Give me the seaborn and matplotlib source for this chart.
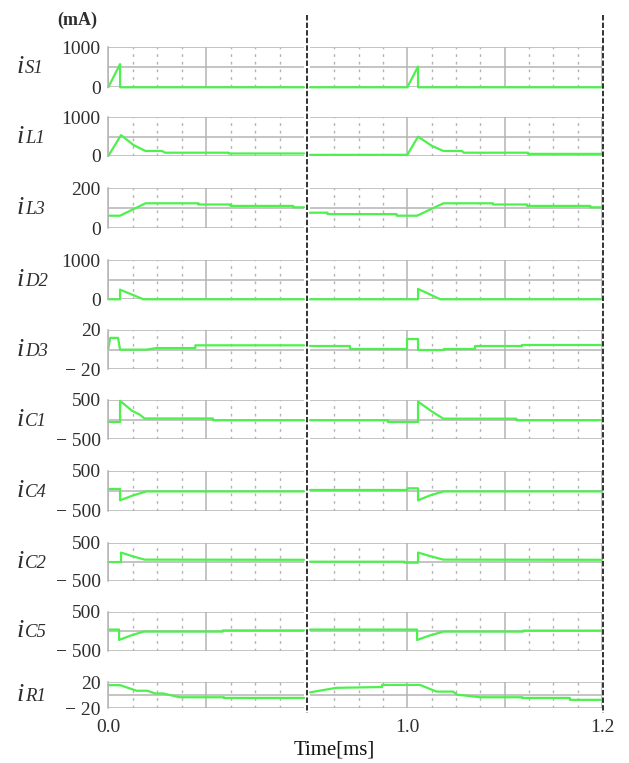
import matplotlib
matplotlib.use('Agg')
import matplotlib.pyplot as plt
from matplotlib.lines import Line2D
import seaborn as sns

# Waveforms: window A = 0-0.2 ms, window B = 0.9-1.2 ms (values in mA)
IS1_A_T = [0, 0.012, 0.012, 0.2]
IS1_A = [0, 580, 0, 0]
IS1_B_T = [0.9, 1.0, 1.011, 1.011, 1.2]
IS1_B = [0, 0, 520, 0, 0]

IL1_A_T = [0, 0.013, 0.026, 0.038, 0.055, 0.058, 0.123, 0.123, 0.2]
IL1_A = [0, 540, 280, 130, 130, 85, 85, 65, 65]
IL1_B_T = [0.9, 1.0, 1.011, 1.025, 1.037, 1.056, 1.058, 1.124, 1.124, 1.2]
IL1_B = [30, 30, 500, 265, 130, 130, 85, 85, 55, 55]

IL3_A_T = [0, 0.012, 0.038, 0.092, 0.092, 0.125, 0.125, 0.189, 0.189, 0.2]
IL3_A = [63, 63, 125, 125, 119, 119, 112, 112, 105, 105]
IL3_B_T = [0.9, 0.918, 0.918, 0.989, 0.989, 1.010, 1.037, 1.088, 1.088,
           1.123, 1.123, 1.188, 1.188, 1.2]
IL3_B = [78, 78, 71, 71, 63, 63, 125, 125, 119, 119, 112, 112, 105, 105]

ID2_A_T = [0, 0.012, 0.012, 0.036, 0.2]
ID2_A = [0, 0, 245, 0, 0]
ID2_B_T = [0.9, 1.011, 1.011, 1.034, 1.2]
ID2_B = [0, 0, 265, 0, 0]

ID3_A_T = [0, 0.002, 0.010, 0.012, 0.039, 0.049, 0.089, 0.089, 0.2]
ID3_A = [1, 12, 12, 0, 0, 1.6, 1.6, 4.4, 4.4]
ID3_B_T = [0.9, 0.941, 0.941, 1.0, 1.0, 1.011, 1.011, 1.038, 1.038,
           1.07, 1.07, 1.118, 1.118, 1.2]
ID3_B = [3.7, 3.7, 1, 1, 11, 11, 0, 0, 1, 1, 3.4, 3.4, 5, 5]

IC1_A_T = [0, 0.012, 0.012, 0.024, 0.032, 0.037, 0.107, 0.107, 0.2]
IC1_A = [-60, -60, 480, 230, 130, 30, 30, -15, -15]
IC1_B_T = [0.9, 0.98, 0.98, 1.011, 1.011, 1.025, 1.037, 1.112, 1.112, 1.2]
IC1_B = [-15, -15, -60, -60, 460, 210, 25, 25, -15, -15]

IC4_A_T = [0, 0.012, 0.012, 0.025, 0.039, 0.2]
IC4_A = [44, 44, -240, -120, -18, -18]
IC4_B_T = [0.9, 1.0, 1.0, 1.011, 1.011, 1.023, 1.037, 1.2]
IC4_B = [18, 18, 60, 60, -240, -120, -18, -18]

IC2_A_T = [0, 0.013, 0.013, 0.024, 0.037, 0.2]
IC2_A = [-10, -10, 240, 150, 55, 50]
IC2_B_T = [0.9, 0.997, 0.997, 1.011, 1.011, 1.023, 1.037, 1.2]
IC2_B = [0, 0, -25, -25, 240, 150, 55, 50]

IC5_A_T = [0, 0.011, 0.011, 0.023, 0.036, 0.117, 0.117, 0.2]
IC5_A = [42, 42, -225, -110, -10, -10, 20, 20]
IC5_B_T = [0.9, 1.010, 1.010, 1.023, 1.037, 1.119, 1.119, 1.2]
IC5_B = [42, 42, -225, -110, -10, -10, 15, 15]

IR1_A_T = [0, 0.012, 0.029, 0.040, 0.048, 0.056, 0.073, 0.118, 0.118, 0.2]
IR1_A = [15.6, 15.6, 7, 7, 2.8, 2.8, -3, -3, -4, -4]
IR1_B_T = [0.9, 0.927, 0.974, 0.974, 1.013, 1.030, 1.047, 1.051, 1.075,
           1.118, 1.118, 1.167, 1.167, 1.2]
IR1_B = [4.5, 11.5, 12.7, 16, 16, 5.7, 5.7, 1, -3, -3, -4, -4, -7, -7]

SUBSCRIPTS = ['S1', 'L1', 'L3', 'D2', 'D3', 'C1', 'C4', 'C2', 'C5', 'R1']
Y_LIMITS = [(0, 1000), (0, 1000), (0, 200), (0, 1000), (-20, 20),
            (-500, 500), (-500, 500), (-500, 500), (-500, 500), (-20, 20)]
Y_TICKLABELS = [['0', '', '1000'], ['0', '', '1000'], ['0', '', '200'],
                ['0', '', '1000'], ['\u2212 20', '', '20'],
                ['\u2212 500', '', '500'], ['\u2212 500', '', '500'],
                ['\u2212 500', '', '500'], ['\u2212 500', '', '500'],
                ['\u2212 20', '', '20']]

TRACES = [
    (IS1_A_T, IS1_A, IS1_B_T, IS1_B),
    (IL1_A_T, IL1_A, IL1_B_T, IL1_B),
    (IL3_A_T, IL3_A, IL3_B_T, IL3_B),
    (ID2_A_T, ID2_A, ID2_B_T, ID2_B),
    (ID3_A_T, ID3_A, ID3_B_T, ID3_B),
    (IC1_A_T, IC1_A, IC1_B_T, IC1_B),
    (IC4_A_T, IC4_A, IC4_B_T, IC4_B),
    (IC2_A_T, IC2_A, IC2_B_T, IC2_B),
    (IC5_A_T, IC5_A, IC5_B_T, IC5_B),
    (IR1_A_T, IR1_A, IR1_B_T, IR1_B),
]

# ---- layout (pixels of the 629x763 canvas) ----
W, H = 629, 763
PANEL_TOP = [47.3, 117.3, 188.3, 260, 330, 400, 470.7, 542.7, 611.7, 682.3]
PANEL_BOT = [87.3, 156, 228.3, 299.3, 369.3, 439.3, 510.7, 580.7, 650.7, 708.3]
LEFT_X = (108.3, 304)
RIGHT_X = (310, 602)

GREEN = '#4ef04e'
GRID = '#b4b4b4'
TEXT = '#2e2e2e'
SERIF = ['Liberation Serif', 'DejaVu Serif']

sns.set_style('white')
plt.rcParams['font.family'] = SERIF


def rect(x0, x1, top, bot):
    return [x0 / W, 1 - bot / H, (x1 - x0) / W, (bot - top) / H]


def style_axes(ax, xlim, major, minor, ylim):
    ax.set_facecolor('none')
    for s in ax.spines.values():
        s.set_visible(False)
    ax.set_xlim(*xlim)
    ax.set_ylim(*ylim)
    ax.set_yticks([ylim[0], (ylim[0] + ylim[1]) / 2, ylim[1]])
    ax.set_xticks(major)
    ax.set_xticks(minor, minor=True)
    ax.grid(True, which='major', color=GRID, lw=1.1)
    ax.grid(True, which='minor', axis='x', color=GRID, lw=1.0, ls=(0, (2, 3.5)))
    ax.tick_params(which='minor', length=0)
    ax.set_xlabel('')
    ax.set_ylabel('')


fig = plt.figure(figsize=(W / 100, H / 100), dpi=100)

minor_a = [0.025, 0.05, 0.075, 0.125, 0.15, 0.175]
minor_b = [0.925, 0.95, 0.975, 1.025, 1.05, 1.075, 1.125, 1.15, 1.175]

n = len(TRACES)
for i, (ta, va, tb, vb) in enumerate(TRACES):
    top, bot = PANEL_TOP[i], PANEL_BOT[i]
    axa = fig.add_axes(rect(LEFT_X[0], LEFT_X[1], top, bot))
    axb = fig.add_axes(rect(RIGHT_X[0], RIGHT_X[1], top, bot))

    sns.lineplot(x=ta, y=va, ax=axa, estimator=None, sort=False,
                 color=GREEN, lw=1.6, legend=False)
    sns.lineplot(x=tb, y=vb, ax=axb, estimator=None, sort=False,
                 color=GREEN, lw=1.6, legend=False)
    for ax in (axa, axb):
        for ln in ax.lines:
            ln.set_clip_on(False)

    style_axes(axa, (0, 0.2), [0, 0.1], minor_a, Y_LIMITS[i])
    style_axes(axb, (0.9, 1.2), [1.0, 1.1, 1.2], minor_b, Y_LIMITS[i])

    axa.spines['left'].set_visible(True)
    axa.spines['left'].set_color(GRID)
    axa.spines['left'].set_linewidth(1.1)
    axa.set_yticklabels(Y_TICKLABELS[i])
    axa.tick_params(axis='y', which='major', length=3.6, width=1.1,
                    color=GRID, pad=2, labelsize=14, labelcolor=TEXT)
    axb.tick_params(axis='y', which='major', length=0, labelleft=False)

    last = i == n - 1
    for ax in (axa, axb):
        ax.tick_params(axis='x', which='major', length=3 if last else 0,
                       width=1.1, color=GRID, pad=5, labelsize=14,
                       labelcolor=TEXT, labelbottom=last)
    if last:
        axa.set_xticklabels(['0.0', ''])
        axb.set_xticklabels(['1.0', '', '1.2'])

    # y label: large italic "i" with a smaller italic suffix on the same baseline
    base = 1 - ((top + bot) / 2 + 6) / H
    fig.text(17 / W, base, 'i', fontsize=19, style='italic', va='baseline',
             color=TEXT)
    fig.text(25 / W, base, SUBSCRIPTS[i], fontsize=13.5, style='italic',
             va='baseline', color=TEXT)

# dashed markers at the axis break and at the end of the window
x_break = (LEFT_X[1] + RIGHT_X[0]) / 2 / W
x_end = (RIGHT_X[1] + 1) / W
for xv in (x_break, x_end):
    fig.add_artist(Line2D([xv, xv], [1 - 15 / H, 1 - 713 / H],
                          transform=fig.transFigure, color='#222222',
                          lw=1.3, ls=(0, (3, 1.2))))

fig.text(77 / W, 1 - 20 / H, '(mA)', ha='center', va='center', fontsize=13,
         weight='bold', color=TEXT)
fig.text(334 / W, 1 - 750 / H, 'Time[ms]', ha='center', va='center',
         fontsize=15, color='#111111')

fig.savefig('out.png', dpi=100)
